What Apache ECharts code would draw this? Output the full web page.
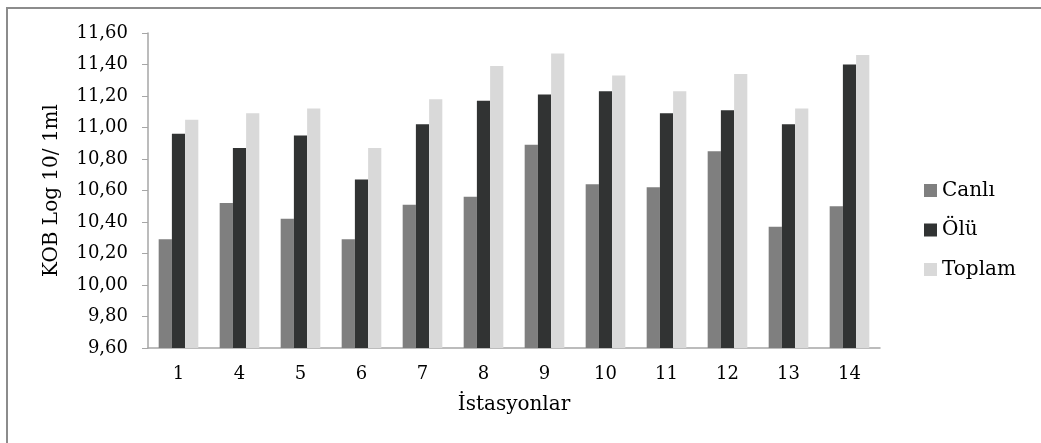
<!DOCTYPE html>
<html>
<head>
<meta charset="utf-8">
<script src="https://cdn.jsdelivr.net/npm/echarts@6/dist/echarts.min.js"></script>
<style>html,body{margin:0;padding:0;background:#fff;}#c{width:1041px;height:443px;}</style>
</head>
<body>
<div id="c"></div>
<script>
const categories = ['1','4','5','6','7','8','9','10','11','12','13','14'];
const canli  = [10.29,10.52,10.42,10.29,10.51,10.56,10.89,10.64,10.62,10.85,10.37,10.50];
const olu    = [10.96,10.87,10.95,10.67,11.02,11.17,11.21,11.23,11.09,11.11,11.02,11.40];
const toplam = [11.05,11.09,11.12,10.87,11.18,11.39,11.47,11.33,11.23,11.34,11.12,11.46];
const seriesNames = ['Canlı','Ölü','Toplam'];
const yTitle = 'KOB Log 10/ 1ml';
const xTitle = 'İstasyonlar';

const FONT = '"DejaVu Serif", "Liberation Serif", serif';
const chart = echarts.init(document.getElementById('c'));
chart.setOption({
  animation: false,
  backgroundColor: '#fff',
  color: ['#7f7f7f', '#313333', '#d9d9d9'],
  graphic: [{
    type: 'rect', shape: {x: 7, y: 8, width: 1200, height: 600},
    style: {fill: 'none', stroke: '#8c8c8c', lineWidth: 2}, silent: true
  }],
  grid: {left: 148, right: 161, top: 33, bottom: 95, containLabel: false},
  legend: {
    orient: 'vertical', left: 919, top: 175,
    itemWidth: 13, itemHeight: 13, itemGap: 18.5,
    icon: 'rect',
    data: seriesNames,
    textStyle: {fontFamily: FONT, fontSize: 20, color: '#000', lineHeight: 21}
  },
  xAxis: {
    type: 'category', data: categories,
    axisLine: {lineStyle: {color: '#a6a6a6', width: 1.5}},
    axisTick: {show: false},
    axisLabel: {fontFamily: FONT, fontSize: 18, color: '#000', margin: 17},
    name: xTitle, nameLocation: 'middle', nameGap: 47,
    nameTextStyle: {fontFamily: FONT, fontSize: 20, color: '#000'}
  },
  yAxis: {
    type: 'value', min: 9.6, max: 11.6, interval: 0.2,
    axisLine: {show: true, lineStyle: {color: '#a6a6a6', width: 1.5}},
    axisTick: {show: true, length: 6, lineStyle: {color: '#a6a6a6'}},
    splitLine: {show: false},
    axisLabel: {fontFamily: FONT, fontSize: 18, color: '#000', margin: 20,
      formatter: v => v.toFixed(2).replace('.', ',')},
    name: yTitle, nameLocation: 'middle', nameGap: 86,
    nameTextStyle: {fontFamily: FONT, fontSize: 20, color: '#000'}
  },
  series: [
    {name: seriesNames[0], type: 'bar', data: canli, barGap: '0%', barCategoryGap: '35%'},
    {name: seriesNames[1], type: 'bar', data: olu, barGap: '0%', barCategoryGap: '35%'},
    {name: seriesNames[2], type: 'bar', data: toplam, barGap: '0%', barCategoryGap: '35%'}
  ]
});
</script>
</body>
</html>
